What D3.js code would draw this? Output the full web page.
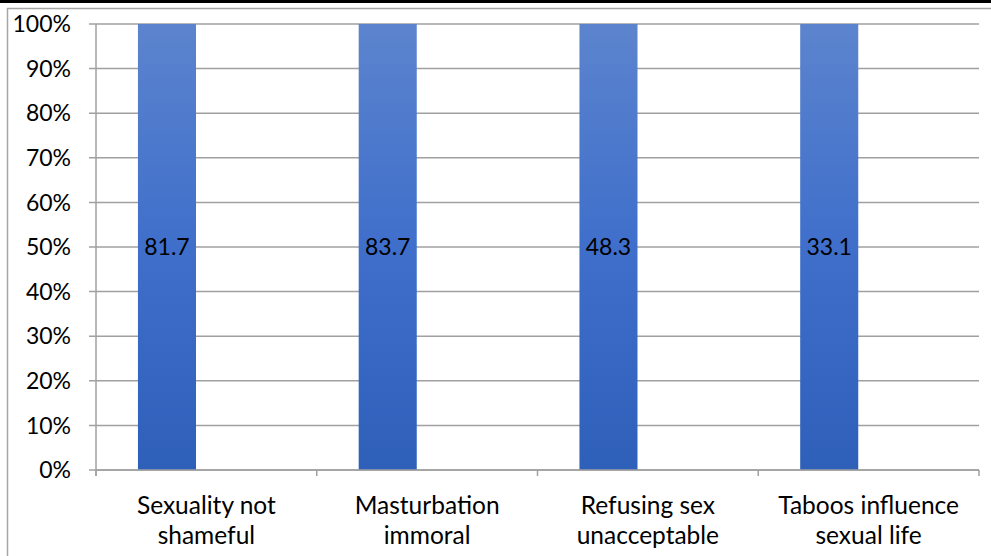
<!DOCTYPE html>
<html><head><meta charset="utf-8">
<script src="https://cdn.jsdelivr.net/npm/d3@7"></script>
<style>body{margin:0;background:#fff}svg{display:block;font-family:Lato,"Open Sans",sans-serif}</style>
</head><body><svg id="c" width="991" height="556"></svg>
<script>
const categories = [["Sexuality not","shameful"],["Masturbation","immoral"],["Refusing sex","unacceptable"],["Taboos influence","sexual life"]];
const values = [81.7, 83.7, 48.3, 33.1];
const stackTotal = [100, 100, 100, 100];
const yTicks = [0,10,20,30,40,50,60,70,80,90,100];

const svg = d3.select("#c");
const W = 991, H = 556;
const m = {l:96, r:979, t:24, b:470};

// frame
svg.append("rect").attr("x",0).attr("y",0).attr("width",W).attr("height",3).attr("fill","#000");
svg.append("line").attr("x1",7).attr("x2",W).attr("y1",8.5).attr("y2",8.5).attr("stroke","#a6a6a6").attr("stroke-width",1.5);
svg.append("line").attr("x1",7.5).attr("x2",7.5).attr("y1",8).attr("y2",H).attr("stroke","#a6a6a6").attr("stroke-width",1.5);

const x = d3.scaleBand().domain(d3.range(categories.length)).range([m.l, m.r]).padding(0);
const y = d3.scaleLinear().domain([0,100]).range([m.b, m.t]);

const defs = svg.append("defs");
const g = defs.append("linearGradient").attr("id","bg").attr("gradientUnits","userSpaceOnUse")
  .attr("x1",0).attr("x2",0).attr("y1",y(100)).attr("y2",y(0));
g.append("stop").attr("offset","0").attr("stop-color","#5c84ce");
g.append("stop").attr("offset","0.5").attr("stop-color","#3f6fcb");
g.append("stop").attr("offset","1").attr("stop-color","#2e5fb9");

// gridlines
svg.append("g").selectAll("line").data(yTicks).join("line")
  .attr("x1", m.l-7).attr("x2", m.r).attr("y1", d=>y(d)).attr("y2", d=>y(d))
  .attr("stroke","#a0a0a0").attr("stroke-width",1.5);

// y labels
svg.append("g").selectAll("text").data(yTicks).join("text")
  .attr("x", 71).attr("y", d=>y(d)).attr("dy","0.36em").attr("text-anchor","end")
  .attr("font-size",23).attr("fill","#000").text(d=>d+"%");

// bars (100% stacked, visible series)
const bw = x.bandwidth();
svg.append("g").selectAll("rect").data(values).join("rect")
  .attr("x",(d,i)=>x(i)+bw*0.19).attr("width",bw*0.263)
  .attr("y",(d,i)=>y(stackTotal[i])).attr("height",(d,i)=>y(0)-y(stackTotal[i]))
  .attr("fill","url(#bg)");

// x axis
svg.append("line").attr("x1",m.l).attr("x2",m.l).attr("y1",m.t).attr("y2",m.b+6).attr("stroke","#a0a0a0").attr("stroke-width",1.5);
svg.append("line").attr("x1",m.l).attr("x2",m.r).attr("y1",m.b).attr("y2",m.b).attr("stroke","#a0a0a0").attr("stroke-width",1.5);
svg.append("g").selectAll("line").data(d3.range(categories.length+1)).join("line")
  .attr("x1",i=>m.l+i*bw).attr("x2",i=>m.l+i*bw).attr("y1",m.b).attr("y2",m.b+6)
  .attr("stroke","#a0a0a0").attr("stroke-width",1.5);

// value labels
svg.append("g").selectAll("text").data(values).join("text")
  .attr("x",(d,i)=>x(i)+bw*0.19+bw*0.263/2).attr("y",y(50)).attr("dy","0.36em")
  .attr("text-anchor","middle").attr("font-size",23).attr("fill","#000").text(d=>d.toFixed(1));

// category labels
const cl = svg.append("g").selectAll("text").data(categories).join("text")
  .attr("text-anchor","middle").attr("font-size",24.5).attr("fill","#000");
cl.each(function(d,i){
  const t = d3.select(this);
  d.forEach((s,j)=>t.append("tspan").attr("x",x(i)+bw/2).attr("y",513.5+j*30.5).text(s));
});
</script></body></html>
